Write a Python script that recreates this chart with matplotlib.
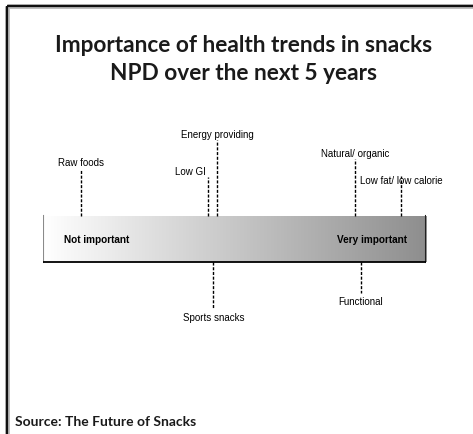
import numpy as np
import matplotlib
matplotlib.use('Agg')
from matplotlib import pyplot as plt
from matplotlib.colors import LinearSegmentedColormap
from matplotlib.lines import Line2D

# health trends and their importance on a 0 (not important) .. 10 (very important) scale
trends = ['Raw foods', 'Low GI', 'Energy providing', 'Sports snacks',
          'Natural/ organic', 'Functional', 'Low fat/ low calorie']
importance = [1.0, 4.3, 4.55, 4.45, 8.15, 8.3, 9.35]
side = ['above', 'above', 'above', 'below', 'above', 'below', 'above']

# layout: label centre and end of the dashed stem (pixels from top)
label_y = [163, 172, 135, 318, 154, 302, 181]
stem_end = [170, 178, 141, 310, 160, 294, 177]
label_ha = ['center', 'right', 'center', 'center', 'center', 'center', 'center']

W, H = 473, 435
fig = plt.figure(figsize=(W / 100, H / 100), dpi=100)

bar_left, bar_right = 43, 426
bar_top, bar_bottom = 217, 263

ax = fig.add_axes([bar_left / W, 0, (bar_right - bar_left) / W, 1])
ax.set_xlim(0, 10)
ax.set_ylim(H, 0)
ax.axis('off')

# gradient bar
cmap = LinearSegmentedColormap.from_list('g', ['#ffffff', '#8e8e8e'])
grad = np.linspace(0, 1, 256).reshape(1, -1)
ax.imshow(grad, cmap=cmap, aspect='auto', extent=(0, 10, bar_bottom, bar_top), zorder=1)
ax.plot([0, 0], [bar_top, bar_bottom], color='#8a8a8a', lw=1.5, zorder=2)
ax.plot([10, 10], [bar_top, bar_bottom], color='#222222', lw=1.5, zorder=2)
ax.plot([0, 10], [bar_bottom, bar_bottom], color='black', lw=1.3, zorder=2)
ax.set_ylim(H, 0)

ax.text(0.55, 240.5, 'Not important', fontsize=7.2, fontweight='bold',
        family='Liberation Sans', va='center', ha='left', zorder=3)
ax.text(9.5, 240.5, 'Very important', fontsize=7.2, fontweight='bold',
        family='Liberation Sans', va='center', ha='right', zorder=3)

for name, v, s, ly, se, ha in zip(trends, importance, side, label_y, stem_end, label_ha):
    y0 = bar_top if s == 'above' else bar_bottom
    ax.plot([v, v], [y0, se], color='black', lw=1.0, linestyle=(0, (2.2, 1.2)),
            clip_on=False, zorder=3)
    tx = v - 0.05 if ha == 'right' else v
    ax.text(tx, ly, name, fontsize=7.0, family='Liberation Sans', ha=ha, va='center')

# title and source
fig.text(244 / W, 1 - 45 / H, 'Importance of health trends in snacks', fontsize=16.3,
         fontweight='bold', family='Lato', ha='center', va='center', color='#1a1a1a')
fig.text(244 / W, 1 - 73 / H, 'NPD over the next 5 years', fontsize=16.3,
         fontweight='bold', family='Lato', ha='center', va='center', color='#1a1a1a')
fig.text(15 / W, 1 - 422 / H, 'Source: The Future of Snacks', fontsize=10,
         fontweight='bold', family='Lato', ha='left', va='center', color='#1a1a1a')

# frame (left and top edges)
for lw, c in [(3.5, '#bbbbbb'), (1.6, '#111111')]:
    fig.add_artist(Line2D([7 / W, 7 / W], [0, 1 - 7 / H], color=c, lw=lw, solid_capstyle='butt'))
    fig.add_artist(Line2D([7 / W, 1], [1 - 7 / H, 1 - 7 / H], color=c, lw=lw, solid_capstyle='butt'))

fig.savefig('out.png', dpi=100)
